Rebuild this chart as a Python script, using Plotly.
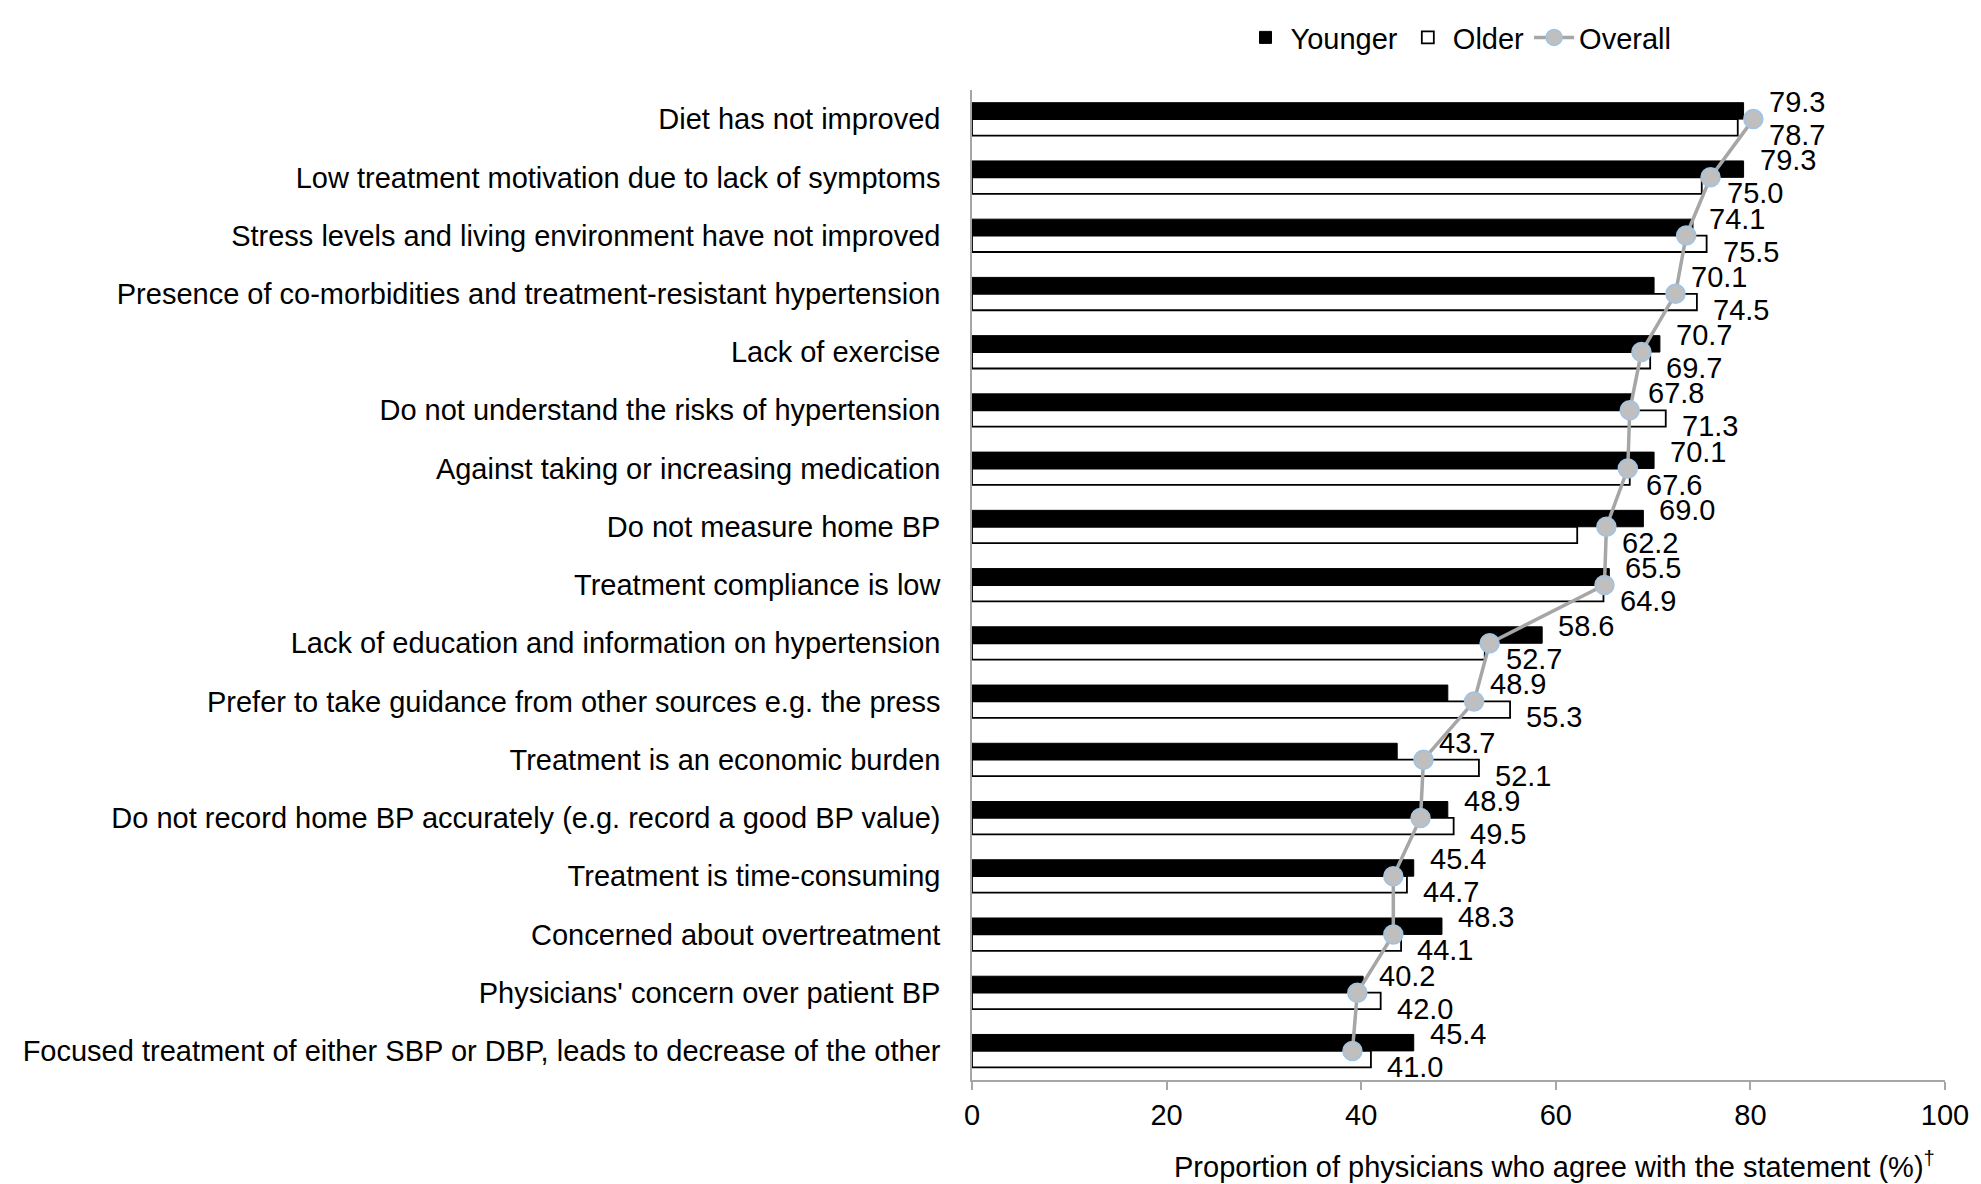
import plotly.graph_objects as go

categories = [
    "Diet has not improved",
    "Low treatment motivation due to lack of symptoms",
    "Stress levels and living environment have not improved",
    "Presence of co-morbidities and treatment-resistant hypertension",
    "Lack of exercise",
    "Do not understand the risks of hypertension",
    "Against taking or increasing medication",
    "Do not measure home BP",
    "Treatment compliance is low",
    "Lack of education and information on hypertension",
    "Prefer to take guidance from other sources e.g. the press",
    "Treatment is an economic burden",
    "Do not record home BP accurately (e.g. record a good BP value)",
    "Treatment is time-consuming",
    "Concerned about overtreatment",
    "Physicians' concern over patient BP",
    "Focused treatment of either SBP or DBP, leads to decrease of the other",
]
younger = [79.3, 79.3, 74.1, 70.1, 70.7, 67.8, 70.1, 69.0, 65.5, 58.6, 48.9, 43.7, 48.9, 45.4, 48.3, 40.2, 45.4]
older = [78.7, 75.0, 75.5, 74.5, 69.7, 71.3, 67.6, 62.2, 64.9, 52.7, 55.3, 52.1, 49.5, 44.7, 44.1, 42.0, 41.0]
overall = [80.3, 75.9, 73.4, 72.3, 68.8, 67.6, 67.4, 65.2, 65.0, 53.2, 51.6, 46.4, 46.1, 43.3, 43.3, 39.6, 39.1]
x_ticks = [0, 20, 40, 60, 80, 100]

FONT = "Liberation Sans, Arial, sans-serif"
FS = 29
AXIS_GRAY = "#A6A6A6"

fig = go.Figure()
fig.add_trace(go.Bar(
    name="Younger", y=categories, x=younger, orientation="h",
    marker=dict(color="black", line=dict(color="black", width=1)),
))
fig.add_trace(go.Bar(
    name="Older", y=categories, x=older, orientation="h",
    marker=dict(color="white", line=dict(color="black", width=1.8)),
))
fig.add_trace(go.Scatter(
    name="Overall", y=categories, x=overall, mode="lines+markers",
    line=dict(color="#A6A6A6", width=3.5),
    marker=dict(size=19, color="#BFBFBF", line=dict(color="#9DC3E6", width=1.5)),
))

annotations = []
for cat, yv, ov, av in zip(categories, younger, older, overall):
    annotations.append(dict(
        x=max(yv, av), y=cat, xref="x", yref="y", text=f"{yv:.1f}",
        showarrow=False, xanchor="left", yanchor="middle", xshift=14, yshift=17,
        font=dict(family=FONT, size=FS, color="black"),
    ))
    annotations.append(dict(
        x=max(ov, av), y=cat, xref="x", yref="y", text=f"{ov:.1f}",
        showarrow=False, xanchor="left", yanchor="middle", xshift=14, yshift=-16,
        font=dict(family=FONT, size=FS, color="black"),
    ))
annotations.append(dict(
    x=1, y=0, xref="paper", yref="paper", xanchor="right", yanchor="middle",
    xshift=-8, yshift=-85, showarrow=False,
    text="Proportion of physicians who agree with the statement (%)<sup>†</sup>",
    font=dict(family=FONT, size=FS, color="black"),
))

fig.update_layout(
    width=1981, height=1184,
    margin=dict(l=972, r=33, t=86, b=104),
    paper_bgcolor="white", plot_bgcolor="white",
    font=dict(family=FONT, size=FS, color="black"),
    barmode="group", bargap=0.436, bargroupgap=0,
    showlegend=True,
    legend=dict(orientation="h", x=0.5, xanchor="center", y=1.053, yanchor="middle",
                font=dict(family=FONT, size=FS, color="black"), traceorder="normal",
                itemwidth=40),
    annotations=annotations,
    xaxis=dict(range=[0, 100], tickvals=x_ticks, showgrid=False, zeroline=False,
               showline=True, linecolor=AXIS_GRAY, linewidth=1.5,
               ticks="outside", ticklen=8, tickcolor=AXIS_GRAY, tickwidth=1.5,
               tickfont=dict(family=FONT, size=FS, color="black")),
    yaxis=dict(type="category", range=[len(categories) - 0.5, -0.5],
               showgrid=False, zeroline=False,
               showline=True, linecolor=AXIS_GRAY, linewidth=1.5, ticks="",
               ticklabelstandoff=24,
               tickfont=dict(family=FONT, size=FS, color="black")),
)

fig.write_html("out.html", config={"displayModeBar": False},
               post_script="document.body.style.margin='0';")
